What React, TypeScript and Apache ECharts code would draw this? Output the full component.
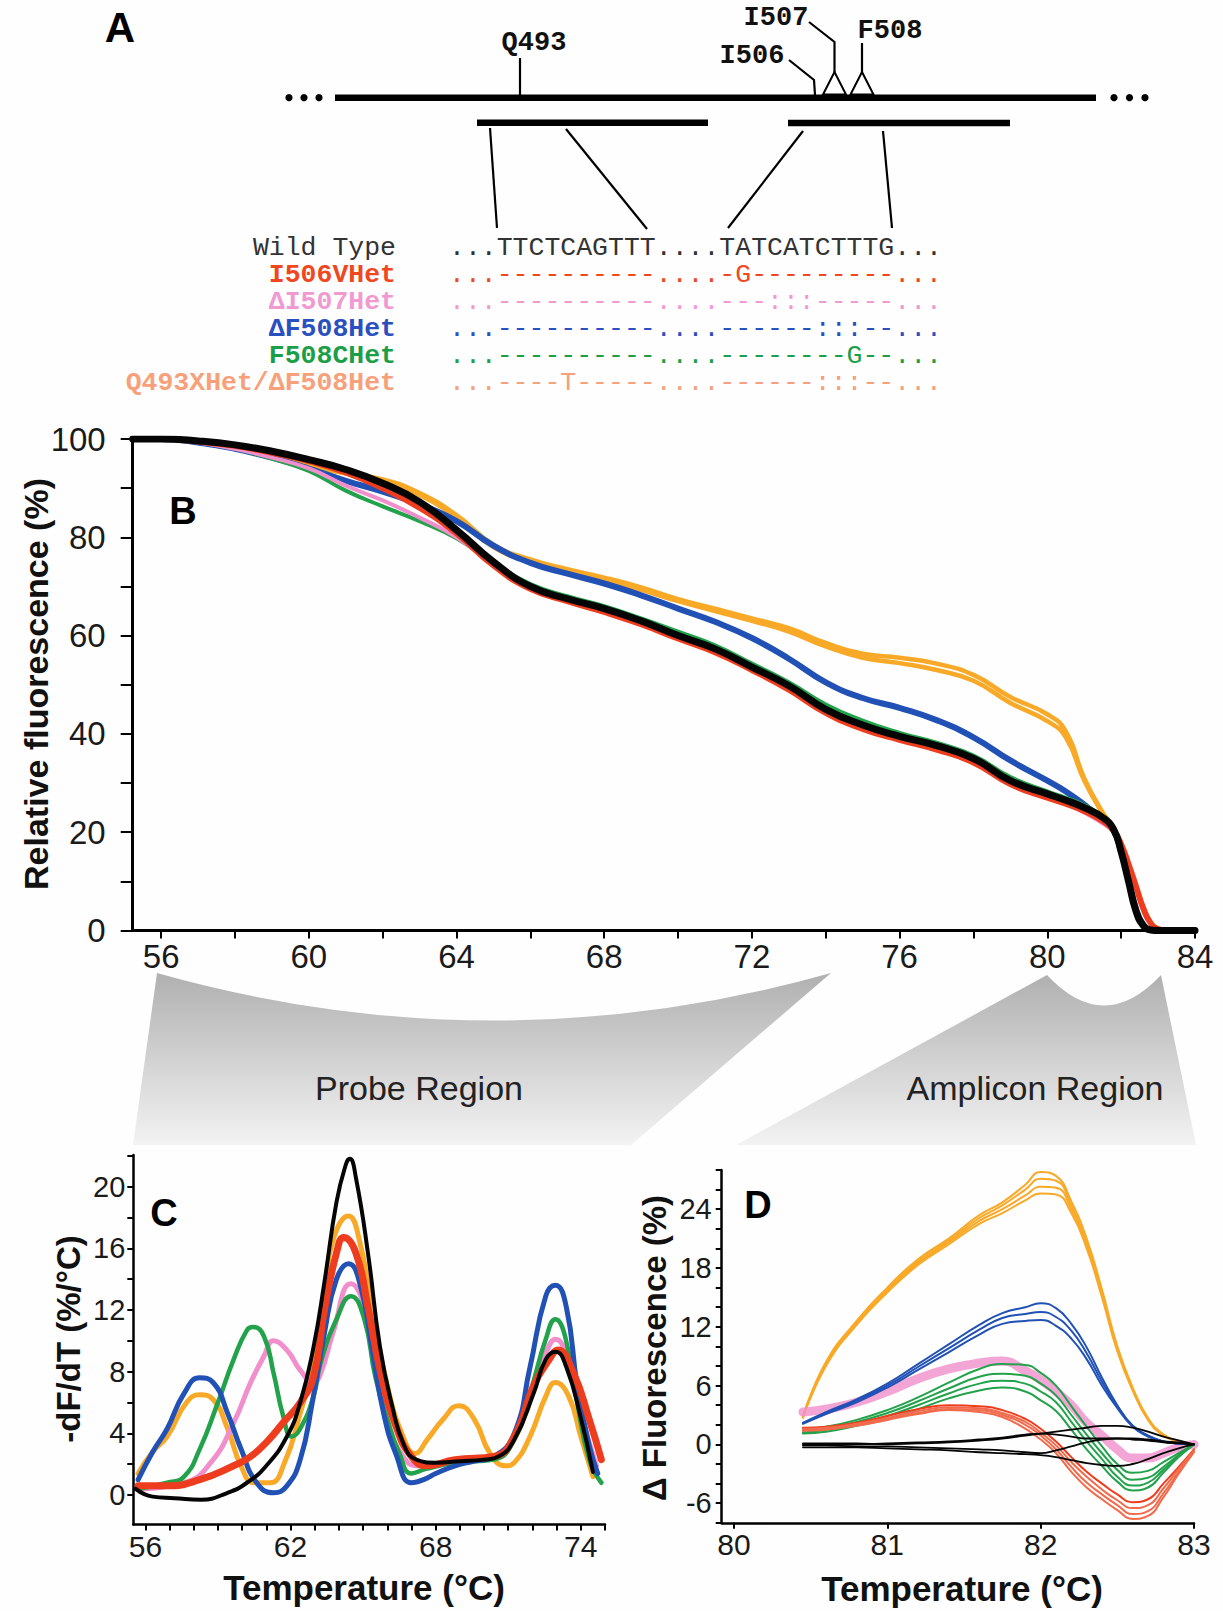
import React, { useEffect, useRef } from "react";
import * as echarts from "echarts";

// ---------- Panel B : melting curves (relative fluorescence %) ----------
const bTemp = [55.23, 56, 57, 58, 59, 60, 61, 62, 63, 64, 65, 66, 67, 68, 69, 70, 71, 72, 73, 74, 75, 76, 77, 78, 79, 80, 80.5, 81, 81.5, 81.8, 82, 82.2, 82.4, 82.6, 82.8, 83, 83.2, 84];
const bBlack = [100, 100, 99.6, 98.8, 97.5, 95.8, 93.8, 91, 87.2, 81.5, 75, 70, 67.5, 65.5, 63, 60, 57.3, 53.6, 49.8, 45, 41.8, 39.5, 37.6, 35, 30.5, 27.8, 26.5, 25, 23, 20.5, 16, 10, 4, 1, 0.1, 0, 0, 0];
const bRed = [100, 100, 99.5, 98.6, 97.2, 95.5, 93.2, 90, 86, 80.8, 74.3, 69.5, 67, 64.8, 62.3, 59.4, 56.6, 53, 49, 44.3, 41, 38.8, 36.8, 34.2, 29.8, 27, 25.8, 24.3, 22.3, 20.3, 17.5, 13.5, 9, 4.5, 1.5, 0.3, 0, 0];
const bGreen = [100, 100, 99.3, 98, 96, 93.5, 89.5, 86.3, 83.3, 79.8, 74.8, 70.5, 68, 66, 63.5, 60.8, 58, 54.3, 50.5, 46, 42.7, 40.2, 38.2, 35.6, 31.2, 28.3, 27, 25.5, 23, 20.5, 16, 10.5, 4.5, 1.2, 0.2, 0, 0, 0];
const bPink = [100, 100, 99.3, 98, 96.2, 94, 90.5, 87.5, 84, 80, 74.5, 69.8, 67.2, 65, 62.5, 59.6, 56.8, 53.2, 49.2, 44.6, 41.3, 39, 37, 34.4, 30, 27.2, 25.8, 24, 21.8, 20, 16, 10.5, 4.5, 1.2, 0.2, 0, 0, 0];
const bBlue = [100, 100, 99.3, 98, 96.2, 94, 91.5, 89.3, 86.7, 83.3, 78.3, 74.8, 72.6, 70.6, 68.2, 65.5, 62.8, 59.5, 55.3, 50.5, 47.3, 45.3, 42.8, 39.3, 34.6, 30.5, 28.3, 25.6, 22.5, 20.3, 16, 10.5, 4.5, 1.2, 0.2, 0, 0, 0];
const bOrange = [100, 100, 99.4, 98.3, 96.6, 94.6, 93, 91.8, 89, 84.5, 78.5, 75.5, 73.5, 71.8, 69.8, 67.4, 65.5, 63.5, 61.5, 58.5, 56.3, 55.5, 54.3, 52, 47.5, 44, 40.5, 31, 24, 20.8, 16, 10.5, 4.5, 1.2, 0.2, 0, 0, 0];
const bOrange2 = [100, 100, 99.4, 98.3, 96.6, 94.6, 93, 91.6, 88.6, 84, 78, 75, 73, 71.3, 69.3, 67, 65, 63, 60.8, 57.8, 55.5, 54.4, 53, 50.8, 46.3, 42.6, 39.3, 30.5, 23.8, 20.8, 16, 10.5, 4.5, 1.2, 0.2, 0, 0, 0];
const bXTicks = [56, 58, 60, 62, 64, 66, 68, 70, 72, 74, 76, 78, 80, 82, 84];
const bXLabels = [56, 60, 64, 68, 72, 76, 80, 84];
const bYTicks = [0, 10, 20, 30, 40, 50, 60, 70, 80, 90, 100];
const bYLabels = [0, 20, 40, 60, 80, 100];

// ---------- Panel C : derivative plots (-dF/dT) ----------
const cBlackT = [55.6, 56.3, 57.2, 58.3, 59.4, 60.2, 61.0, 61.85, 62.4, 62.95, 63.4, 63.9, 64.3, 64.45, 64.7, 65.2, 65.7, 66.2, 66.7, 67.2, 68.0, 69.0, 70.0, 70.6, 71.25, 72.05, 72.55, 72.95, 73.4, 74.0, 74.5];
const cBlack = [0.4, -0.1, -0.2, -0.3, 0.15, 0.8, 1.9, 3.8, 6.0, 9.6, 13.8, 19.0, 21.5, 21.8, 20.6, 15.7, 9.6, 5.8, 3.2, 2.3, 2.1, 2.2, 2.3, 2.5, 3.6, 6.6, 8.8, 9.3, 8.3, 5.0, 1.5];
const cBlueT = [55.7, 56.3, 56.9, 57.6, 58.25, 58.8, 59.4, 59.95, 60.6, 61.3, 61.85, 62.4, 62.9, 63.4, 63.9, 64.4, 64.9, 65.4, 65.85, 66.35, 67.0, 67.5, 68.0, 68.8, 69.6, 70.4, 71.25, 71.9, 72.55, 72.95, 73.4, 73.85, 74.35, 74.7];
const cBlue = [1.0, 2.8, 4.3, 6.6, 7.6, 7.3, 5.3, 3.0, 0.8, 0.15, 0.6, 2.3, 6.0, 10.5, 14.0, 15.0, 13.5, 9.2, 5.3, 2.7, 0.8, 1.0, 1.4, 1.9, 2.2, 2.5, 4.0, 8.3, 12.9, 13.6, 12.2, 7.1, 3.2, 1.4];
const cOrangeT = [55.7, 56.3, 56.9, 57.7, 58.25, 58.8, 59.4, 59.95, 60.5, 61.15, 61.75, 62.4, 62.95, 63.4, 63.75, 64.4, 64.85, 65.35, 66.0, 66.65, 67.15, 67.65, 68.3, 68.95, 69.6, 70.25, 70.9, 71.25, 71.9, 72.55, 72.95, 73.5, 74.0, 74.5];
const cOrange = [1.4, 2.8, 3.8, 6.0, 6.5, 6.2, 4.3, 1.9, 0.8, 0.8, 2.1, 5.3, 8.6, 13.0, 16.5, 18.1, 16.5, 12.2, 7.1, 3.8, 2.7, 3.6, 4.9, 5.8, 4.9, 2.7, 1.9, 2.1, 3.8, 6.4, 7.3, 6.4, 3.8, 1.2];
const cGreenT = [55.7, 56.9, 57.6, 58.25, 58.95, 59.65, 60.2, 60.45, 60.9, 61.3, 61.7, 62.05, 62.4, 62.95, 63.25, 63.9, 64.5, 65.05, 65.5, 66.0, 66.5, 67.0, 67.6, 68.8, 70.4, 71.25, 71.9, 72.55, 72.95, 73.35, 73.85, 74.35, 74.85];
const cGreen = [0.4, 0.8, 1.2, 3.0, 5.8, 8.8, 10.7, 10.9, 10.3, 7.9, 5.1, 3.8, 4.3, 6.4, 8.6, 11.4, 12.9, 11.4, 7.7, 4.9, 2.7, 1.4, 1.7, 2.1, 2.3, 3.6, 6.6, 10.1, 11.4, 10.3, 6.0, 2.3, 0.8];
const cPinkT = [55.7, 57.6, 58.7, 59.65, 60.35, 60.9, 61.3, 61.85, 62.4, 62.95, 63.25, 63.75, 64.5, 65.05, 65.5, 66.0, 66.65, 67.3, 68.8, 70.4, 71.25, 71.9, 72.55, 72.95, 73.5, 74.0, 74.65];
const cPink = [0.4, 0.8, 2.1, 4.7, 7.3, 9.0, 10.0, 9.4, 8.1, 7.3, 7.9, 10.5, 13.7, 12.2, 8.2, 4.9, 2.5, 1.9, 2.3, 2.5, 3.8, 6.6, 9.2, 10.1, 8.6, 5.3, 1.9];
const cRedT = [55.7, 56.9, 58.25, 59.65, 60.35, 61.05, 61.7, 62.4, 62.95, 63.4, 63.9, 64.2, 64.7, 65.2, 65.7, 66.35, 67.0, 67.65, 68.8, 70.4, 71.25, 72.05, 72.7, 73.05, 73.7, 74.35, 74.85];
const cRed = [0.6, 0.6, 1.0, 1.9, 2.5, 3.5, 4.7, 6.0, 7.7, 12.0, 15.7, 16.7, 15.7, 12.2, 8.1, 4.5, 2.5, 1.9, 2.3, 2.5, 3.8, 7.1, 8.8, 9.4, 7.9, 4.9, 2.3];
const cXTicks = [56, 57, 58, 59, 60, 61, 62, 63, 64, 65, 66, 67, 68, 69, 70, 71, 72, 73, 74, 75];
const cXLabels = [56, 62, 68, 74];
const cYTicks = [0, 2, 4, 6, 8, 10, 12, 14, 16, 18, 20, 22];
const cYLabels = [0, 4, 8, 12, 16, 20];

// ---------- Panel D : difference plots (delta fluorescence %) ----------
const dTemp = [80.45, 80.6, 80.8, 81.0, 81.2, 81.4, 81.6, 81.75, 81.9, 82.0, 82.1, 82.2, 82.3, 82.4, 82.5, 82.6, 82.7, 82.8, 82.9, 83.0];
const dOrangeA = [2.9, 8.4, 12.6, 16.0, 18.9, 21.0, 23.4, 24.7, 26.5, 27.8, 27.4, 24.8, 21.0, 15.8, 10.0, 5.8, 2.7, 1.0, 0.3, 0.0];
const dOrangeB = [2.8, 8.2, 12.4, 15.8, 18.7, 20.8, 23.1, 24.4, 26.0, 27.1, 26.9, 24.4, 20.6, 15.5, 9.8, 5.7, 2.6, 1.0, 0.3, 0.0];
const dOrangeC = [2.8, 8.1, 12.3, 15.6, 18.5, 20.6, 22.8, 24.0, 25.4, 26.3, 26.2, 24.0, 20.3, 15.2, 9.6, 5.6, 2.6, 1.0, 0.3, 0.0];
const dOrangeD = [2.7, 8.0, 12.2, 15.5, 18.3, 20.4, 22.5, 23.6, 24.9, 25.6, 25.5, 23.6, 20.0, 15.0, 9.5, 5.5, 2.5, 0.9, 0.3, 0.0];
const dBlueA = [2.2, 3.3, 4.6, 6.2, 8.2, 10.2, 12.2, 13.4, 14.0, 14.4, 13.9, 12.3, 9.9, 6.8, 4.0, 1.9, 0.9, 0.3, 0.1, 0.0];
const dBlueB = [2.2, 3.2, 4.5, 6.0, 7.9, 9.8, 11.7, 12.9, 13.3, 13.5, 13.0, 11.6, 9.3, 6.4, 3.9, 1.9, 0.9, 0.3, 0.1, 0.0];
const dBlueC = [2.1, 3.1, 4.3, 5.8, 7.6, 9.4, 11.2, 12.3, 12.6, 12.7, 12.1, 10.8, 8.7, 6.0, 3.7, 1.8, 0.8, 0.3, 0.1, 0.0];
const dPink = [3.3, 3.6, 4.3, 5.4, 6.7, 7.7, 8.3, 8.5, 7.5, 6.6, 5.4, 4.0, 2.2, 0.9, -0.5, -1.4, -1.4, -0.9, -0.3, 0.0];
const dGreenA = [1.5, 1.8, 2.5, 3.5, 4.8, 6.3, 7.7, 8.2, 8.1, 7.3, 6.0, 3.9, 1.8, -0.2, -2.0, -2.9, -2.7, -1.8, -0.9, 0.0];
const dGreenB = [1.4, 1.7, 2.3, 3.2, 4.4, 5.7, 6.9, 7.2, 7.0, 6.2, 5.0, 3.0, 1.0, -0.9, -2.6, -3.6, -3.4, -2.3, -1.1, 0.0];
const dGreenC = [1.2, 1.5, 2.1, 2.9, 4.0, 5.2, 6.2, 6.5, 6.2, 5.4, 4.3, 2.3, 0.3, -1.5, -3.3, -4.2, -3.9, -2.6, -1.2, 0.0];
const dGreenD = [1.1, 1.3, 1.9, 2.6, 3.6, 4.7, 5.5, 5.8, 5.4, 4.5, 3.4, 1.5, -0.5, -2.2, -3.8, -4.7, -4.4, -2.9, -1.3, 0.0];
const dRedA = [1.7, 1.8, 2.2, 2.9, 3.6, 4.0, 3.9, 3.5, 2.6, 1.6, 0.3, -1.3, -2.8, -4.0, -5.1, -5.9, -5.6, -4.0, -2.3, -0.5];
const dRedB = [1.6, 1.7, 2.1, 2.7, 3.4, 3.8, 3.7, 3.2, 2.3, 1.2, -0.1, -1.8, -3.3, -4.6, -5.7, -6.5, -6.2, -4.5, -2.5, -0.6];
const dRedC = [1.5, 1.6, 2.0, 2.6, 3.2, 3.6, 3.5, 3.0, 2.0, 0.9, -0.5, -2.3, -3.9, -5.1, -6.2, -7.1, -6.8, -5.0, -2.8, -0.7];
const dRedD = [1.4, 1.5, 1.9, 2.5, 3.1, 3.5, 3.3, 2.8, 1.6, 0.5, -0.9, -2.8, -4.4, -5.6, -6.7, -7.6, -7.3, -5.4, -3.0, -0.8];
const dBlackA = [0.1, 0.1, 0.1, 0.0, 0.1, 0.2, 0.4, 0.6, 0.9, 1.1, 1.3, 1.5, 1.7, 1.9, 1.9, 1.7, 1.3, 0.8, 0.4, 0.0];
const dBlackB = [0.0, 0.0, 0.0, 0.1, 0.2, 0.3, 0.5, 0.7, 1.0, 1.1, 1.0, 0.8, 0.6, 0.6, 0.6, 0.6, 0.5, 0.3, 0.2, 0.0];
const dBlackC = [-0.3, -0.3, -0.3, -0.4, -0.5, -0.6, -0.8, -0.9, -1.0, -1.1, -1.3, -1.6, -1.9, -2.1, -2.2, -2.0, -1.5, -0.9, -0.4, 0.0];
const dBlackD = [-0.1, -0.1, -0.2, -0.2, -0.3, -0.4, -0.5, -0.6, -0.8, -0.9, -0.6, -0.2, 0.2, 0.5, 0.6, 0.5, 0.4, 0.2, 0.1, 0.0];
const dXTicks = [80, 81, 82, 83];
const dXLabels = [80, 81, 82, 83];
const dYTicks = [-8, -6, -4, -2, 0, 2, 4, 6, 8, 10, 12, 14, 16, 18, 20, 22, 24, 26, 28];
const dYLabels = [-6, 0, 6, 12, 18, 24];

// ---------- Panel A : sequence alignment text ----------
const seqNames = ["Wild Type", "I506VHet", "\u0394I507Het", "\u0394F508Het", "F508CHet", "Q493XHet/\u0394F508Het"];
const seqRows = [
  "...TTCTCAGTTT....TATCATCTTTG...",
  "...----------....-G---------...",
  "...----------....---:::-----...",
  "...----------....------:::--...",
  "...----------....--------G--...",
  "...----T-----....------:::--...",
];
const seqColors = ["#333333", "#f0471f", "#f19ad2", "#2a4fbf", "#1c9e48", "#f7a07a"];

const COL = {
  black: "#050505",
  red: "#ee3d1e",
  green: "#22a24b",
  pink: "#f08fcc",
  blue: "#2251b5",
  orange: "#f8a927",
  salmon: "#f26a4c",
};

const FONT = "'Liberation Sans', Arial, Helvetica, sans-serif";
const MONO = "'Liberation Mono', 'Courier New', 'DejaVu Sans Mono', monospace";

echarts.graphic.registerShape(
  "probeRegion",
  echarts.graphic.extendPath("M157 973 Q494 1068 831 973 L631 1145 L133 1145 Z", {})
);
echarts.graphic.registerShape(
  "ampliconRegion",
  echarts.graphic.extendPath("M1047 975 Q1104 1036 1161 975 L1196 1145 L736 1145 Z", {})
);

function pairs(xs: number[], ys: number[]) {
  return xs.map((x, i) => [x, ys[i]]);
}

function line(xs: number[], ys: number[], color: string, width: number, axis: number, z: number, opacity = 1) {
  return {
    type: "line",
    xAxisIndex: axis,
    yAxisIndex: axis,
    data: pairs(xs, ys),
    smooth: 0.5,
    showSymbol: false,
    symbol: "none",
    silent: true,
    z,
    lineStyle: { color, width, opacity, cap: "round", join: "round" },
  };
}

function xAxis(grid: number, min: number, max: number, ticks: number[], labels: number[], fs: number, margin: number, tickLen: number, lw: number) {
  return {
    type: "value",
    gridIndex: grid,
    min,
    max,
    splitLine: { show: false },
    axisLine: { show: true, onZero: false, lineStyle: { color: "#000", width: lw } },
    axisTick: { show: true, length: tickLen, customValues: ticks, lineStyle: { color: "#000", width: 2 } },
    axisLabel: { show: true, customValues: labels, fontSize: fs, fontFamily: FONT, color: "#1a1a1a", margin, showMinLabel: true, showMaxLabel: true },
  };
}

function yAxis(grid: number, min: number, max: number, ticks: number[], labels: number[], fs: number, margin: number, tickLen: number, lw: number) {
  return {
    type: "value",
    gridIndex: grid,
    min,
    max,
    splitLine: { show: false },
    axisLine: { show: true, onZero: false, lineStyle: { color: "#000", width: lw } },
    axisTick: { show: true, length: tickLen, customValues: ticks, lineStyle: { color: "#000", width: 2 } },
    axisLabel: { show: true, customValues: labels, fontSize: fs, fontFamily: FONT, color: "#1a1a1a", margin, showMinLabel: true, showMaxLabel: true },
  };
}

function txt(x: number, y: number, text: string, font: string, fill: string, align = "center", rotation = 0) {
  return {
    type: "text",
    x,
    y,
    rotation,
    silent: true,
    z: 10,
    style: {
      text,
      font,
      fill,
      textAlign: align,
      align,
      textVerticalAlign: "middle",
      verticalAlign: "middle",
    },
  };
}

// one rich-text block per column so rows with different colours never overlap
function richBlock(x: number, yTop: number, lines: string[], bold: boolean[], align: string) {
  const rich: any = {};
  lines.forEach((_, i) => {
    rich["r" + i] = {
      fill: seqColors[i],
      fontFamily: MONO,
      fontSize: 26.5,
      fontWeight: bold[i] ? "bold" : "normal",
      lineHeight: 27,
    };
  });
  return {
    type: "text",
    x,
    y: yTop,
    silent: true,
    z: 10,
    style: {
      text: lines.map((l, i) => `{r${i}|${l}}`).join("\n"),
      rich,
      textAlign: align,
      align,
      textVerticalAlign: "top",
      verticalAlign: "top",
      lineHeight: 27,
    },
  };
}

function seg(x1: number, y1: number, x2: number, y2: number, w: number) {
  return { type: "line", silent: true, z: 10, shape: { x1, y1, x2, y2 }, style: { stroke: "#000", lineWidth: w } };
}

function buildGraphic() {
  const grad = {
    type: "linear",
    x: 0,
    y: 0,
    x2: 0,
    y2: 1,
    colorStops: [
      { offset: 0, color: "#b0b0b0" },
      { offset: 1, color: "#f3f3f3" },
    ],
  };
  const g: any[] = [];
  g.push({ type: "probeRegion", x: 0, y: 0, silent: true, z: 1, style: { fill: grad } });
  g.push({ type: "ampliconRegion", x: 0, y: 0, silent: true, z: 1, style: { fill: grad } });
  g.push(txt(419, 1088, "Probe Region", `34px ${FONT}`, "#222"));
  g.push(txt(1035, 1088, "Amplicon Region", `34px ${FONT}`, "#222"));

  // Panel A diagram
  g.push(txt(120, 27, "A", `bold 42px ${FONT}`, "#000"));
  [289, 304, 319, 1114, 1129.5, 1145].forEach((cx) =>
    g.push({ type: "circle", silent: true, z: 10, shape: { cx, cy: 97.7, r: 3.6 }, style: { fill: "#000" } })
  );
  g.push(seg(335, 97.7, 1096, 97.7, 6.5));
  g.push(seg(477, 122.7, 708, 122.7, 6.5));
  g.push(seg(788, 123, 1010, 123, 6.5));
  g.push(seg(490, 128, 497, 228, 2.2));
  g.push(seg(566, 129, 647, 229, 2.2));
  g.push(seg(803, 131, 728, 228, 2.2));
  g.push(seg(883, 131, 892, 228, 2.2));
  g.push(seg(520, 58, 520, 95, 2.2));
  g.push(txt(534, 43, "Q493", `bold 27px ${MONO}`, "#111"));
  g.push(txt(752, 56, "I506", `bold 27px ${MONO}`, "#111"));
  g.push(txt(776, 17.5, "I507", `bold 27px ${MONO}`, "#111"));
  g.push(txt(890, 31, "F508", `bold 27px ${MONO}`, "#111"));
  g.push({ type: "polyline", silent: true, z: 10, shape: { points: [[789, 60], [814, 80], [815, 95]] }, style: { stroke: "#000", lineWidth: 2.2, fill: null } });
  g.push({ type: "polyline", silent: true, z: 10, shape: { points: [[809, 22], [834.5, 42], [834.5, 72]] }, style: { stroke: "#000", lineWidth: 2.2, fill: null } });
  g.push(seg(862, 43, 862, 72, 2.2));
  g.push({ type: "polygon", silent: true, z: 11, shape: { points: [[834.5, 72], [823, 94.5], [846, 94.5]] }, style: { fill: "#fff", stroke: "#000", lineWidth: 2 } });
  g.push({ type: "polygon", silent: true, z: 11, shape: { points: [[862, 72], [850.5, 94.5], [873.5, 94.5]] }, style: { fill: "#fff", stroke: "#000", lineWidth: 2 } });

  const boldNames = seqNames.map((_, i) => i > 0);
  g.push(richBlock(396, 234.5, seqNames, boldNames, "right"));
  g.push(richBlock(449, 234.5, seqRows, seqRows.map(() => false), "left"));

  // panel letters
  g.push(txt(183, 511, "B", `bold 38px ${FONT}`, "#000"));
  g.push(txt(164, 1213, "C", `bold 38px ${FONT}`, "#000"));
  g.push(txt(758, 1205, "D", `bold 38px ${FONT}`, "#000"));

  // axis titles
  g.push(txt(36, 684, "Relative fluorescence (%)", `bold 34px ${FONT}`, "#111", "center", Math.PI / 2));
  g.push(txt(68, 1339, "-dF/dT (%/\u00B0C)", `bold 33px ${FONT}`, "#111", "center", Math.PI / 2));
  g.push(txt(654, 1348, "\u0394 Fluorescence (%)", `bold 33px ${FONT}`, "#111", "center", Math.PI / 2));
  g.push(txt(364, 1587, "Temperature (\u00B0C)", `bold 35px ${FONT}`, "#111"));
  g.push(txt(962, 1588, "Temperature (\u00B0C)", `bold 35px ${FONT}`, "#111"));
  return g;
}

function buildOption() {
  const series: any[] = [
    // Panel B
    line(bTemp, bOrange, COL.orange, 4.5, 0, 2),
    line(bTemp, bOrange2, COL.orange, 4.5, 0, 2),
    line(bTemp, bBlue, COL.blue, 6, 0, 3),
    line(bTemp, bGreen, COL.green, 4, 0, 4),
    line(bTemp, bPink, COL.pink, 4, 0, 4),
    line(bTemp, bRed, COL.red, 6, 0, 5),
    line(bTemp, bBlack, COL.black, 7, 0, 6),
    // Panel C
    line(cOrangeT, cOrange, COL.orange, 5, 1, 2),
    line(cPinkT, cPink, COL.pink, 5, 1, 3),
    line(cGreenT, cGreen, COL.green, 4.5, 1, 3),
    line(cBlueT, cBlue, COL.blue, 5, 1, 4),
    line(cRedT, cRed, COL.red, 7, 1, 5),
    line(cBlackT, cBlack, COL.black, 4, 1, 6),
    // Panel D
    line(dTemp, dOrangeA, COL.orange, 2, 2, 2),
    line(dTemp, dOrangeB, COL.orange, 2, 2, 2),
    line(dTemp, dOrangeC, COL.orange, 2, 2, 2),
    line(dTemp, dOrangeD, COL.orange, 2, 2, 2),
    line(dTemp, dPink, COL.pink, 9, 2, 2, 0.8),
    line(dTemp, dBlueA, COL.blue, 2, 2, 3),
    line(dTemp, dBlueB, COL.blue, 2, 2, 3),
    line(dTemp, dBlueC, COL.blue, 2, 2, 3),
    line(dTemp, dGreenA, COL.green, 2, 2, 4),
    line(dTemp, dGreenB, COL.green, 2, 2, 4),
    line(dTemp, dGreenC, COL.green, 2, 2, 4),
    line(dTemp, dGreenD, COL.green, 2, 2, 4),
    line(dTemp, dRedA, COL.red, 2, 2, 5),
    line(dTemp, dRedB, COL.salmon, 2, 2, 5),
    line(dTemp, dRedC, COL.salmon, 2, 2, 5),
    line(dTemp, dRedD, COL.salmon, 2, 2, 5),
    line(dTemp, dBlackA, COL.black, 1.8, 2, 6),
    line(dTemp, dBlackB, COL.black, 1.8, 2, 6),
    line(dTemp, dBlackC, COL.black, 1.8, 2, 6),
    line(dTemp, dBlackD, COL.black, 1.8, 2, 6),
  ];

  return {
    animation: false,
    backgroundColor: "#fefefe",
    textStyle: { fontFamily: FONT },
    grid: [
      { left: 132.7, top: 439, width: 1062.3, height: 491.5, containLabel: false },
      { left: 133.3, top: 1155, width: 471.7, height: 369.4, containLabel: false },
      { left: 721.7, top: 1170, width: 472.3, height: 352.8, containLabel: false },
    ],
    xAxis: [
      xAxis(0, 55.23, 84, bXTicks, bXLabels, 33, 9, 8, 3),
      xAxis(1, 55.5, 75, cXTicks, cXLabels, 30, 7, 6, 2.5),
      xAxis(2, 79.92, 83, dXTicks, dXLabels, 30, 7, 6, 2.5),
    ],
    yAxis: [
      yAxis(0, 0, 100, bYTicks, bYLabels, 33, 27, 12, 3),
      yAxis(1, -1.9, 22.05, cYTicks, cYLabels, 29, 8, 6, 2.5),
      yAxis(2, -8, 28, dYTicks, dYLabels, 29, 10, 6, 2.5),
    ],
    series,
    graphic: { elements: buildGraphic() },
  };
}

export default function App() {
  const ref = useRef<HTMLDivElement>(null);
  useEffect(() => {
    document.body.style.margin = "0";
    const chart = echarts.init(ref.current as HTMLDivElement, null, { renderer: "svg", width: 1223, height: 1611 });
    chart.setOption(buildOption() as any);
    return () => {
      chart.dispose();
    };
  }, []);
  return (
    <div
      ref={ref}
      style={{ position: "absolute", left: 0, top: 0, width: 1223, height: 1611, background: "#fefefe" }}
    />
  );
}
